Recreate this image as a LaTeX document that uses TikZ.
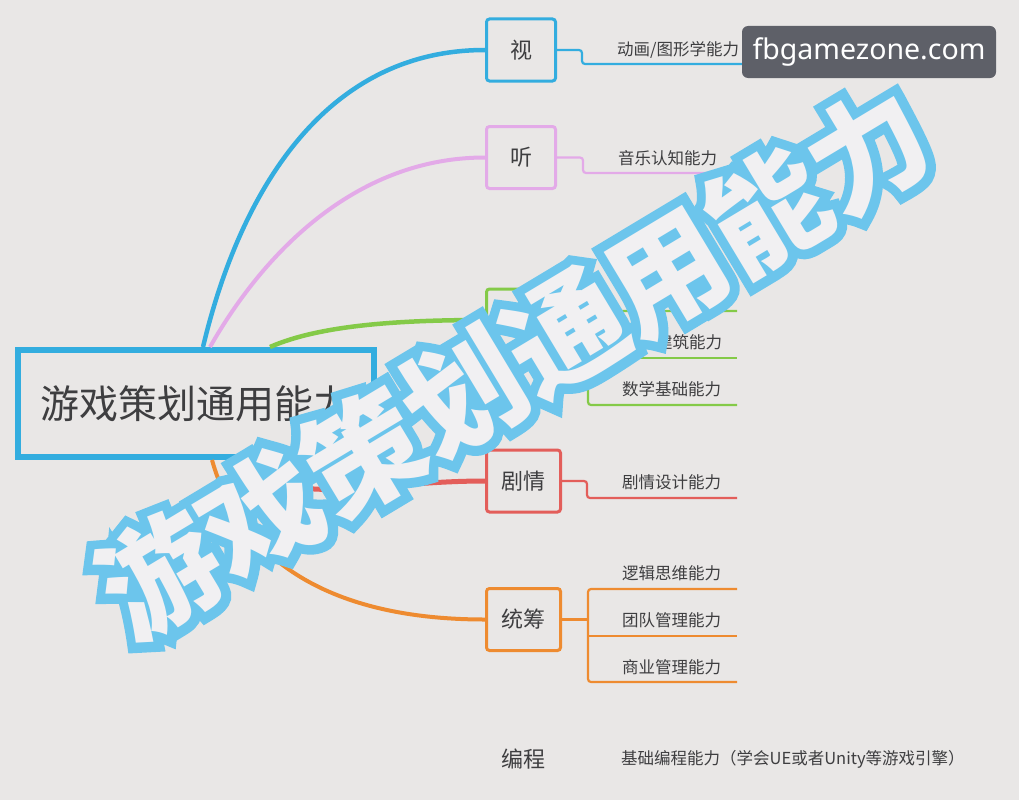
\documentclass[tikz,border=0pt]{standalone}
\usepackage{fontspec}
\newfontfamily\cjk{Noto Sans CJK SC}
\newfontfamily\ovblue{Noto Sans CJK SC}[BoldFeatures={FakeBold=16}]
\newfontfamily\wmfont{Noto Sans}
\definecolor{bg}{HTML}{E9E7E6}
\definecolor{txt}{HTML}{3E3E40}
\definecolor{cblue}{HTML}{33ADDF}
\definecolor{cpink}{HTML}{E3AAE8}
\definecolor{cgreen}{HTML}{84CA48}
\definecolor{cred}{HTML}{E35E5A}
\definecolor{corange}{HTML}{EE8B30}
\definecolor{ovb}{HTML}{6CC5EC}
\definecolor{ovw}{HTML}{F1F0F2}
\definecolor{wmbg}{HTML}{5E6068}
\begin{document}
\begin{tikzpicture}[x=1pt,y=-1pt,
  rootbox/.style={draw=cblue, line width=6pt, fill=bg, minimum width=356pt, minimum height=107pt, inner sep=0pt, text=txt, font=\cjk\fontsize{39}{39}\selectfont},
  bx/.style={draw=#1, line width=3pt, rounded corners=3pt, fill=bg, minimum width=69pt, minimum height=62pt, inner sep=0pt, text=txt, font=\cjk\fontsize{22}{22}\selectfont},
  wbx/.style={bx=#1, minimum width=74pt},
  lbl/.style={anchor=west, inner sep=0pt, text=txt, font=\cjk\fontsize{16.5}{17}\selectfont},
  mainln/.style={draw=#1, line width=4.5pt},
  subln/.style={draw=#1, line width=2.2pt, rounded corners=3pt},
  overlay/.style={rotate=31, inner sep=0pt, font=\fontsize{118}{118}\selectfont}
]
\fill[bg] (0,0) rectangle (1019,800);
\useasboundingbox (0,0) rectangle (1019,800);

% main node
\node[rootbox] (root) at (196,403.5) {游戏策划通用能力};

% first-level nodes
\node[bx=cblue] (v) at (521,50) {视};
\node[bx=cpink] (t) at (521,157.5) {听};
\node[bx=cgreen] (g) at (521,320) {};
\node[wbx=cred] (r) at (523.5,481) {剧情};
\node[wbx=corange] (s) at (523.5,619.5) {统筹};
\node[inner sep=0pt, text=txt, font=\cjk\fontsize{22}{22}\selectfont] (p) at (523,759) {编程};

% curves from the root
\draw[mainln=cblue] ([xshift=7pt]root.north) .. controls (238,200) and (320,50) .. (v.west);
\draw[mainln=cpink, line width=4pt] ([xshift=14pt]root.north) .. controls (267,247) and (360,157.5) .. (t.west);
\draw[mainln=cgreen] ([xshift=74pt]root.north) .. controls (320,325) and (400,320) .. (g.west);
\draw[mainln=cred, line width=5pt] ([xshift=60pt]root.south) .. controls (280,510) and (370,481) .. (r.west);
\draw[mainln=corange, line width=4pt] ([xshift=16pt]root.south) .. controls (240,560) and (330,619.5) .. (s.west);

% leaf labels
\node[lbl] (v1) at (617,50) {动画/图形学能力};
\node[lbl] (t1) at (618,158) {音乐认知能力};
\node[lbl] (g2) at (656,342) {建筑能力};
\node[lbl] (g3) at (622,389) {数学基础能力};
\node[lbl] (r1) at (622,482) {剧情设计能力};
\node[lbl] (s1) at (622,573) {逻辑思维能力};
\node[lbl] (s2) at (622,620) {团队管理能力};
\node[lbl] (s3) at (622,667) {商业管理能力};
\node[lbl] (p1) at (621,759) {基础编程能力（学会UE或者Unity等游戏引擎）};

% branch line ends
\coordinate (vE) at (760,64);
\coordinate (tE) at (737,173);
\coordinate (gE1) at (737,311);
\coordinate (gE2) at (737,358);
\coordinate (gE3) at (737,405);
\coordinate (gJ) at (588,320);
\coordinate (rE) at (737,498);
\coordinate (sE1) at (737,589);
\coordinate (sE2) at (737,636);
\coordinate (sE3) at (737,682);
\coordinate (sJ) at (588,619.5);

\draw[subln=cblue] (v.east) -- ++(25,0) |- (vE);
\draw[subln=cpink] (t.east) -- ++(26,0) |- (tE);
\draw[subln=cgreen] (g.east) -- (gJ);
\draw[subln=cgreen] (gE1) -| (gJ) |- (gE3);
\draw[subln=cgreen] (gJ |- gE2) -- (gE2);
\draw[subln=cred] (r.east) -- ++(25,0) |- (rE);
\draw[subln=corange] (s.east) -- (sJ);
\draw[subln=corange] (sE1) -| (sJ) |- (sE3);
\draw[subln=corange] (sJ |- sE2) -- (sE2);

% big overlay title
\node[overlay, text=ovb] (ovB) at (514,362) {\ovblue\bfseries 游戏策划通用能力};
\node[overlay, text=ovw] (ovW) at (514,362) {\cjk\bfseries 游戏策划通用能力};

% watermark
\node[fill=wmbg, rounded corners=6pt, minimum width=254pt, minimum height=52pt, inner sep=0pt,
      text=white, font=\wmfont\fontsize{28.5}{29}\selectfont] (wm) at (869,52) {fbgamezone.com};
\end{tikzpicture}
\end{document}
